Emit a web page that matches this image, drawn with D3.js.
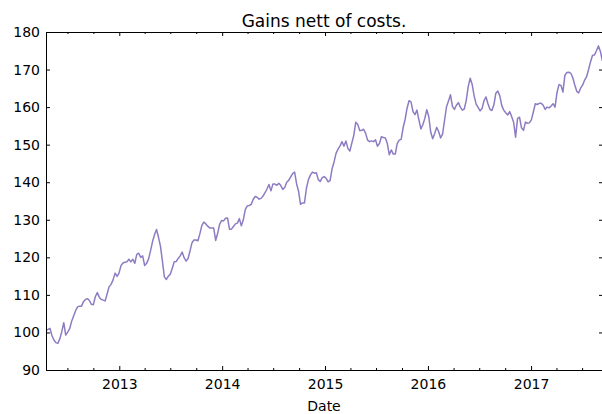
<!DOCTYPE html>
<html>
<head>
<meta charset="utf-8">
<script src="https://cdn.jsdelivr.net/npm/d3@7"></script>
<style>
  body { margin: 0; background: #fff; }
  svg text { font-family: "DejaVu Sans", sans-serif; fill: #000; }
</style>
</head>
<body>
<div id="chart"></div>
<script>
// weekly series, first week starts 2012-04-16
const startDate = new Date(2012, 3, 16);
const gains = [
  100.5, 100.8, 101.1, 99.2, 98.0, 97.3, 97.1, 98.3, 100.2, 102.6,
  99.3, 100.1, 101.0, 103.0, 104.4, 105.8, 106.8, 107.0, 107.0, 108.2,
  108.8, 109.0, 108.5, 107.5, 107.4, 109.5, 110.6, 109.4, 108.8, 108.6,
  108.4, 110.3, 112.2, 112.8, 114.0, 115.8, 114.9, 115.8, 117.8, 118.5,
  118.7, 118.8, 119.5, 118.8, 119.5, 118.4, 120.8, 121.1, 120.0, 120.4,
  117.8, 118.4, 119.6, 121.8, 124.2, 126.0, 127.4, 125.4, 123.0, 119.0,
  114.8, 114.1, 115.0, 115.5, 117.1, 118.8, 118.9, 119.7, 120.4, 121.4,
  119.9, 119.0, 119.7, 121.7, 123.9, 124.6, 124.6, 124.4, 126.3, 128.5,
  129.4, 128.9, 128.3, 127.8, 127.8, 127.8, 124.5, 126.4, 128.8, 129.8,
  129.7, 130.4, 130.5, 127.5, 127.5, 128.2, 128.9, 129.1, 130.3, 128.4,
  130.0, 132.7, 133.7, 133.8, 134.1, 135.4, 136.2, 136.0, 135.5, 135.7,
  136.3, 137.2, 138.2, 139.4, 137.7, 139.5, 139.5, 139.2, 139.7, 139.1,
  138.1, 138.6, 140.0, 140.5, 141.4, 142.3, 142.7, 139.6, 137.6, 134.1,
  134.5, 134.5, 138.4, 140.7, 141.9, 142.7, 142.4, 142.5, 140.7, 140.2,
  141.2, 141.5, 141.0, 140.1, 140.5, 143.6, 145.4, 147.7, 148.8, 149.6,
  150.8, 149.6, 151.0, 149.0, 148.3, 150.4, 152.5, 156.0, 155.4, 153.8,
  153.8, 154.1, 153.0, 151.2, 150.8, 151.0, 150.8, 151.3, 149.6, 150.3,
  152.1, 151.9, 151.8, 150.3, 147.3, 148.6, 147.5, 147.5, 150.3, 151.2,
  151.4, 154.5, 156.7, 159.7, 161.7, 161.4, 158.8, 158.0, 159.2, 156.6,
  154.2, 155.3, 157.0, 159.3, 157.5, 153.3, 151.6, 153.0, 154.6, 153.5,
  151.8, 152.8, 156.5, 160.1, 161.6, 163.3, 160.2, 159.4, 160.5, 161.2,
  160.0, 159.2, 159.5, 161.8, 165.5, 167.7, 166.0, 163.0, 160.8, 159.9,
  159.0, 159.6, 161.7, 162.7, 160.9, 159.4, 159.1, 160.6, 163.7, 164.3,
  163.0, 160.4, 159.2, 158.5, 157.9, 158.8, 157.5, 156.0, 152.0, 157.0,
  157.3, 154.5, 153.8, 156.0, 155.7, 155.8, 156.6, 158.7, 160.9, 160.7,
  161.0, 161.0, 160.5, 159.4, 160.0, 159.8, 160.3, 160.9, 160.0, 163.9,
  166.0, 165.8, 164.0, 168.5, 169.2, 169.3, 169.0, 167.8, 165.9, 164.2,
  163.8, 165.1, 165.9, 167.2, 168.1, 170.0, 172.1, 173.8, 173.9, 175.0,
  176.3, 174.8, 172.3
];
const dates = gains.map((v, i) => d3.timeDay.offset(startDate, i * 7));
const yTicks = [90, 100, 110, 120, 130, 140, 150, 160, 170, 180];
const yearTicks = [2013, 2014, 2015, 2016, 2017].map(y => new Date(y, 0, 1));

const margin = {top: 32, right: 0, bottom: 44, left: 46},
    width = 557,
    height = 338;

const svg = d3.select("#chart").append("svg")
    .attr("width", 602)
    .attr("height", 414);

const g = svg.append("g")
    .attr("transform", "translate(" + margin.left + "," + margin.top + ")");

// data end sits just at the right spine, which falls off the picture
const x = d3.scaleTime()
    .domain(d3.extent(dates))
    .range([0, 556.4]);

const y = d3.scaleLinear()
    .domain([90, 180])
    .range([height, 0]);

const quarterTicks = d3.timeMonth.every(3).range(x.domain()[0], x.domain()[1])
    .filter(d => d.getMonth() !== 0);

g.append("clipPath").attr("id", "clip")
  .append("rect").attr("width", width).attr("height", height);

const line = d3.line()
    .x((d, i) => x(dates[i]))
    .y(d => y(d));

g.append("path")
    .datum(gains)
    .attr("clip-path", "url(#clip)")
    .attr("fill", "none")
    .attr("stroke", "#8e7cc3")
    .attr("stroke-width", 1.5)
    .attr("stroke-linejoin", "round")
    .attr("d", line);

// axes, ticks pointing inward like matplotlib classic
g.append("g")
    .attr("transform", "translate(0," + height + ")")
    .call(d3.axisBottom(x).tickValues(yearTicks).tickFormat(d3.timeFormat("%Y"))
        .tickSizeInner(-4).tickSizeOuter(0).tickPadding(9))
    .call(a => a.select(".domain").attr("d", "M0,0.5H" + width))
    .call(a => a.selectAll("text").style("font-size", "14px"));

g.append("g")
    .attr("transform", "translate(0," + height + ")")
    .call(d3.axisBottom(x).tickValues(quarterTicks).tickFormat("")
        .tickSizeInner(-2).tickSizeOuter(0))
    .call(a => a.select(".domain").remove());

g.append("g")
    .call(d3.axisTop(x).tickValues(yearTicks).tickFormat("")
        .tickSizeInner(-4).tickSizeOuter(0))
    .call(a => a.select(".domain").attr("d", "M0,0.5H" + width));

g.append("g")
    .call(d3.axisTop(x).tickValues(quarterTicks).tickFormat("")
        .tickSizeInner(-2).tickSizeOuter(0))
    .call(a => a.select(".domain").remove());

g.append("g")
    .call(d3.axisLeft(y).tickValues(yTicks)
        .tickSizeInner(-4).tickSizeOuter(0).tickPadding(6))
    .call(a => a.selectAll("text").style("font-size", "14px"));

g.append("g")
    .attr("transform", "translate(" + width + ",0)")
    .call(d3.axisRight(y).tickValues(yTicks).tickFormat("")
        .tickSizeInner(-4).tickSizeOuter(0));

g.selectAll(".domain").attr("stroke", "#000");
g.selectAll(".tick line").attr("stroke", "#000");

svg.append("text")
    .attr("x", margin.left + 278)
    .attr("y", 27)
    .attr("text-anchor", "middle")
    .style("font-size", "17px")
    .text("Gains nett of costs.");

svg.append("text")
    .attr("x", margin.left + 278)
    .attr("y", 411)
    .attr("text-anchor", "middle")
    .style("font-size", "14px")
    .text("Date");
</script>
</body>
</html>
